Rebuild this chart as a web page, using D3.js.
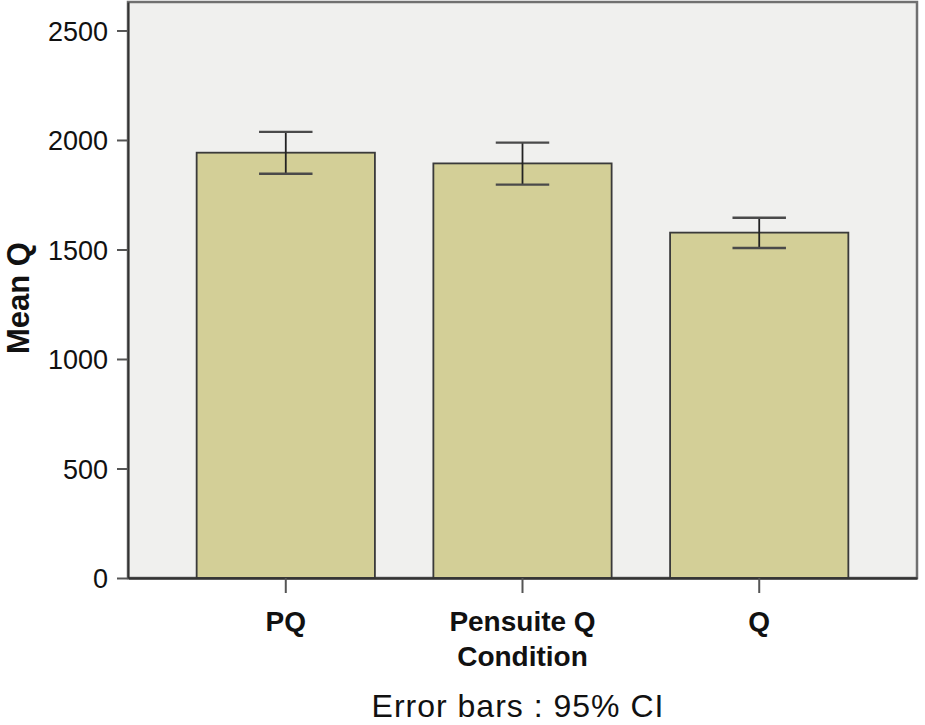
<!DOCTYPE html>
<html>
<head>
<meta charset="utf-8">
<script src="https://cdn.jsdelivr.net/npm/d3@7"></script>
<style>
  body { margin: 0; background: #fff; }
  text { font-family: "Liberation Sans", Arial, sans-serif; fill: #111; }
</style>
</head>
<body>
<div id="chart"></div>
<script>
// Values
const categories = ['PQ', 'Pensuite Q', 'Q'];
const means = [1942, 1893, 1577];
const ciLow = [1846, 1796, 1507];
const ciHigh = [2037, 1988, 1645];
const yTicks = [0, 500, 1000, 1500, 2000, 2500];

const data = categories.map((c, i) => ({
    category: c, mean: means[i], lo: ciLow[i], hi: ciHigh[i]
}));

const width = 925, height = 725;
const margin = { top: 2, right: 8, bottom: 147, left: 128 };

const svg = d3.select('#chart')
    .append('svg')
        .attr('width', width)
        .attr('height', height);

const x = d3.scaleBand()
    .domain(categories)
    .range([margin.left, width - margin.right])
    .paddingInner(0.247)
    .paddingOuter(0.29);

const y = d3.scaleLinear()
    .domain([0, 2630])
    .range([height - margin.bottom, margin.top]);

// Plot background + frame
svg.append('rect')
    .attr('x', margin.left)
    .attr('y', margin.top)
    .attr('width', width - margin.right - margin.left)
    .attr('height', height - margin.bottom - margin.top)
    .attr('fill', '#f0f0ee')
    .attr('stroke', '#707070')
    .attr('stroke-width', 2.5);

// Bars
svg.selectAll('.bar')
    .data(data)
    .enter()
    .append('rect')
        .attr('class', 'bar')
        .attr('x', d => x(d.category))
        .attr('y', d => y(d.mean))
        .attr('width', x.bandwidth())
        .attr('height', d => y(0) - y(d.mean))
        .attr('fill', '#d3cf97')
        .attr('stroke', '#3a3a3a')
        .attr('stroke-width', 1.8);

// Error bars
const capW = x.bandwidth() * 0.3;
const err = svg.selectAll('.err')
    .data(data)
    .enter()
    .append('g')
        .attr('class', 'err')
        .attr('transform', d => `translate(${x(d.category) + x.bandwidth() / 2},0)`);

err.append('line')
    .attr('y1', d => y(d.lo))
    .attr('y2', d => y(d.hi))
    .attr('stroke', '#222')
    .attr('stroke-width', 1.8);

err.selectAll('.cap')
    .data(d => [d.lo, d.hi])
    .enter()
    .append('line')
        .attr('x1', -capW / 2)
        .attr('x2', capW / 2)
        .attr('y1', v => y(v))
        .attr('y2', v => y(v))
        .attr('stroke', '#4a4a4a')
        .attr('stroke-width', 2.4);

// Y axis
const yAxis = svg.append('g')
    .attr('transform', `translate(${margin.left},0)`)
    .call(d3.axisLeft(y)
        .tickValues(yTicks)
        .tickFormat(d3.format('d'))
        .tickSize(11)
        .tickSizeOuter(0)
        .tickPadding(9));
yAxis.select('.domain').attr('stroke', '#333').attr('stroke-width', 2);
yAxis.selectAll('.tick line').attr('stroke', '#555').attr('stroke-width', 2);
yAxis.selectAll('.tick text')
    .style('font-size', '27px')
    .attr('dy', '0.36em');

// X axis
const xAxis = svg.append('g')
    .attr('transform', `translate(0,${y(0)})`)
    .call(d3.axisBottom(x).tickSize(15).tickSizeOuter(0).tickPadding(18));
xAxis.select('.domain').attr('stroke', '#333').attr('stroke-width', 2.5);
xAxis.selectAll('.tick line').attr('stroke', '#555').attr('stroke-width', 2);
xAxis.selectAll('.tick text')
    .style('font-size', '28px')
    .style('font-weight', 'bold');

// Axis titles
svg.append('text')
    .attr('x', (x.range()[0] + x.range()[1]) / 2)
    .attr('y', 666)
    .style('text-anchor', 'middle')
    .style('font-size', '28px')
    .style('font-weight', 'bold')
    .text('Condition');

svg.append('text')
    .attr('transform', 'translate(29,298) rotate(-90)')
    .style('text-anchor', 'middle')
    .style('font-size', '31px')
    .style('font-weight', 'bold')
    .text('Mean Q');

svg.append('text')
    .attr('x', 518)
    .attr('y', 717)
    .style('text-anchor', 'middle')
    .style('font-size', '32px')
    .style('letter-spacing', '1px')
    .text('Error bars : 95% CI');
</script>
</body>
</html>
